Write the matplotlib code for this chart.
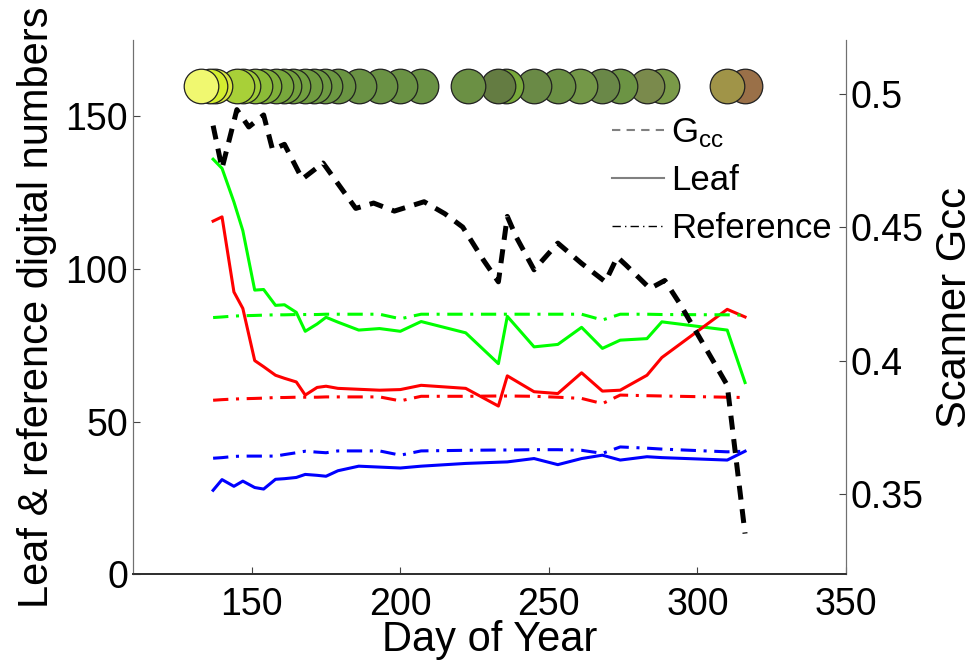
import numpy as np
import matplotlib
matplotlib.use("Agg")
import matplotlib.pyplot as plt
from matplotlib.lines import Line2D

plt.rcParams['font.family'] = ['Liberation Sans', 'DejaVu Sans']
plt.rcParams['mathtext.fontset'] = 'custom'
plt.rcParams['mathtext.rm'] = 'Liberation Sans'
plt.rcParams['mathtext.it'] = 'Liberation Sans'

# sampling days for the leaf / reference series
days = [137, 140, 144, 147, 151, 154, 158, 161, 165, 168, 172, 175, 179, 186, 193,
        200, 207, 222, 233, 236, 245, 253, 261, 268, 274, 283, 288, 310, 316]

green_leaf = [136.0, 133.0, 122.0, 112.6, 93.1, 93.3, 88.1, 88.3, 85.8, 79.6, 82.0, 84.2, 82.6, 80.0, 80.5,
              79.6, 82.8, 79.1, 69.0, 84.5, 74.5, 75.3, 80.9, 74.0, 76.7, 77.2, 82.7, 80.0, 62.8]
red_leaf = [115.7, 117.1, 92.5, 87.1, 70.0, 68.0, 65.2, 64.2, 63.0, 58.7, 61.2, 61.6, 60.9, 60.6, 60.3,
            60.5, 61.9, 60.9, 55.1, 65.0, 59.8, 59.2, 66.0, 60.0, 60.3, 65.2, 71.0, 86.8, 84.3]
blue_leaf = [27.5, 31.0, 28.8, 30.5, 28.4, 27.9, 31.1, 31.3, 31.7, 32.7, 32.4, 32.1, 33.9, 35.4, 35.1,
             34.8, 35.4, 36.3, 36.7, 36.8, 37.9, 35.9, 37.9, 39.0, 37.4, 38.5, 38.2, 37.4, 40.3]

green_ref = [84.1, 84.3, 84.6, 84.7, 84.8, 84.9, 85.0, 85.0, 85.1, 85.1, 85.1, 85.2, 85.2, 85.2, 85.2,
             83.7, 85.2, 85.2, 85.2, 85.2, 85.2, 85.2, 85.2, 83.3, 85.2, 85.2, 85.1, 85.0, 84.9]
red_ref = [57.0, 57.2, 57.4, 57.5, 57.6, 57.7, 57.9, 57.9, 58.0, 58.0, 58.0, 58.1, 58.1, 58.1, 58.1,
           56.8, 58.3, 58.3, 58.4, 58.4, 58.3, 58.0, 57.6, 55.9, 58.7, 58.5, 58.4, 58.0, 57.9]
blue_ref = [38.0, 38.2, 38.6, 38.7, 38.7, 38.7, 38.7, 39.2, 39.8, 40.3, 40.0, 39.8, 40.4, 40.4, 40.4,
            39.0, 40.4, 40.6, 40.7, 40.7, 40.8, 40.8, 40.6, 39.6, 41.7, 41.3, 41.0, 40.1, 40.3]

# scanner greenness (right axis)
gcc_days = [137, 140, 145, 149, 154, 157, 161, 167, 174, 185, 191, 198, 208, 215, 221,
            228, 233, 236, 239, 245, 253, 261, 269, 273, 276, 284, 289, 294, 310, 316]
gcc = [0.488, 0.472, 0.494, 0.4875, 0.492, 0.479, 0.481, 0.468, 0.474, 0.457, 0.459, 0.456, 0.4595, 0.455, 0.450,
       0.4376, 0.4295, 0.454, 0.4463, 0.434, 0.444, 0.4364, 0.4295, 0.4388, 0.4357, 0.427, 0.430, 0.4214, 0.3908, 0.3352]

# leaf colour swatches along the top
swatch_days = [133, 136, 137.5, 145, 147, 151, 154, 158, 161, 164, 168, 171, 174.5, 179, 186, 193, 200, 207,
               222.7, 233, 235.5, 245, 253, 260.6, 268, 274, 283, 288, 310, 316]
swatch_colors = ['#f0f870', '#d4ee30', '#d6e640', '#a8d038', '#a0cc38', '#8cbc38', '#80b03a', '#78a83c',
                 '#74a23e', '#72a040', '#709c40', '#6e9a42', '#6c9842', '#6a9442', '#6a9244', '#6a9244',
                 '#6a9244', '#6a9244',
                 '#6b9044', '#647c42', '#78a83a', '#6a8a46', '#6b9044', '#749848', '#6a8848', '#6c9444',
                 '#7a8a4c', '#7a9a48', '#a09448', '#9a7048']
swatch_level = 160

fig = plt.figure(figsize=(9.77, 6.7), dpi=100)
ax = fig.add_axes([0.136, 0.143, 0.730, 0.797])
ax2 = ax.twinx()

lw = 2.2
dashdot = (0, (5, 2.5, 1, 2.5))
ax.plot(days, green_leaf, color='#00ff00', lw=lw)
ax.plot(days, red_leaf, color='#ff0000', lw=lw)
ax.plot(days, blue_leaf, color='#0000ff', lw=lw)
ax.plot(days, green_ref, color='#00ff00', lw=lw, linestyle=dashdot)
ax.plot(days, red_ref, color='#ff0000', lw=lw, linestyle=dashdot)
ax.plot(days, blue_ref, color='#0000ff', lw=lw, linestyle=dashdot)

# earlier swatches sit on top of later ones
n = len(swatch_days)
for i in range(n):
    ax.scatter([swatch_days[i]], [swatch_level], s=620, color=swatch_colors[i],
               edgecolor='#202020', linewidth=0.9, zorder=10 + n - i, clip_on=False)

ax2.plot(gcc_days, gcc, color='black', lw=3.6, linestyle=(0, (2.8, 1.9)))

ax.set_xlim(110, 350)
ax.set_ylim(0, 175)
ax2.set_ylim(0.32, 0.52)
ax.set_xticks([150, 200, 250, 300, 350])
ax.set_yticks([0, 50, 100, 150])
ax2.set_yticks([0.35, 0.4, 0.45, 0.5])
ax2.set_yticklabels(['0.35', '0.4', '0.45', '0.5'])

fs = 27
ax.tick_params(direction='in', length=5, labelsize=fs, color='#444444')
ax.tick_params(axis='x', pad=9)
ax2.tick_params(direction='in', length=5, labelsize=fs, color='#444444')
ax.set_xlabel('Day of Year', fontsize=30, labelpad=-2)
ax.set_ylabel('Leaf & reference digital numbers', fontsize=30, labelpad=6)
ax2.set_ylabel('Scanner Gcc', fontsize=30, labelpad=8)

for a in (ax, ax2):
    a.spines['top'].set_visible(False)
    a.spines['left'].set_color('#707070')
    a.spines['right'].set_color('#707070')
    a.spines['bottom'].set_color('#303030')
    a.spines['bottom'].set_linewidth(1.3)

handles = [Line2D([], [], color='#808080', lw=1.5, linestyle=(0, (4, 3))),
           Line2D([], [], color='#808080', lw=1.5),
           Line2D([], [], color='black', lw=1.0, linestyle=(0, (6, 3, 1, 3)))]
ax2.legend(handles, [r'G$_{\mathregular{cc}}$', 'Leaf', 'Reference'], loc='upper left',
           bbox_to_anchor=(0.672, 0.858), frameon=False, fontsize=25, handlelength=1.5,
           handletextpad=0.2, labelspacing=0.42, borderpad=0, borderaxespad=0)

fig.savefig('out.png', dpi=100)
